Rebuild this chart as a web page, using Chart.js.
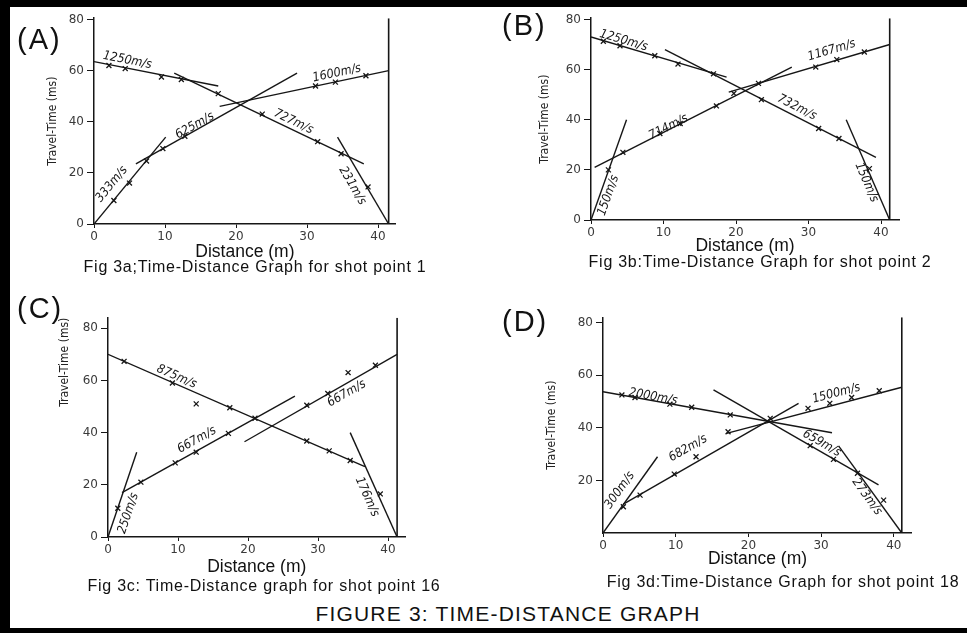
<!DOCTYPE html>
<html>
<head>
<meta charset="utf-8">
<script src="https://cdn.jsdelivr.net/npm/chart.js@4.4.1/dist/chart.umd.min.js"></script>
<style>
  body { margin: 0; width: 967px; height: 633px; position: relative; background: #fff; overflow: hidden;
         font-family: "Liberation Sans", Arial, sans-serif; color: #111; }
  .bar { position: absolute; background: #000; }
  canvas { position: absolute; }
  .tag { position: absolute; font-size: 29px; line-height: 1; letter-spacing: 2px; }
  .cap { position: absolute; font-size: 16px; letter-spacing: 0.75px; line-height: 1; white-space: nowrap; transform: translate(-50%, -50%); }
  #title { position: absolute; left: 508px; top: 613px; font-size: 21px; letter-spacing: 1.2px; line-height: 1; white-space: nowrap; transform: translate(-50%, -50%); }
</style>
</head>
<body>
<div class="bar" style="left:0;top:0;width:967px;height:7px"></div>
<div class="bar" style="left:0;top:0;width:10px;height:633px"></div>
<div class="bar" style="left:0;top:628px;width:967px;height:5px"></div>

<canvas id="chartA" width="420" height="262" style="left:20px;top:8px"></canvas>
<canvas id="chartB" width="435" height="256" style="left:505px;top:8px"></canvas>
<canvas id="chartC" width="430" height="280" style="left:20px;top:305px"></canvas>
<canvas id="chartD" width="455" height="272" style="left:505px;top:305px"></canvas>

<div class="tag" style="left:17px;top:25px">(A)</div>
<div class="tag" style="left:502px;top:11px">(B)</div>
<div class="tag" style="left:17px;top:294px">(C)</div>
<div class="tag" style="left:502px;top:307px">(D)</div>

<div class="cap" style="left:255px;top:267px">Fig 3a;Time-Distance Graph for shot point 1</div>
<div class="cap" style="left:760px;top:262px">Fig 3b:Time-Distance Graph for shot point 2</div>
<div class="cap" style="left:264px;top:586px">Fig 3c: Time-Distance graph for shot point 16</div>
<div class="cap" style="left:783px;top:582px">Fig 3d:Time-Distance Graph for shot point 18</div>
<div id="title">FIGURE 3: TIME-DISTANCE GRAPH</div>

<script>
// tick labels
const distTicks = [0, 10, 20, 30, 40];
const timeTicks = [0, 20, 40, 60, 80];
const timeTicksD = [20, 40, 60, 80];

// shot point 1 - line segments [x1, y1, x2, y2] (m, ms)
const aLines = [[0, 0, 10.1, 34], [5.9, 23.5, 28.6, 59], [17.7, 46, 41.5, 60],
                [0, 63.5, 17.5, 54], [11.3, 59, 38, 23.5], [34.3, 34, 41.5, 0]];
const aForward = [[2.8, 9.2], [5, 16], [7.4, 24.6], [9.7, 29.5], [12.8, 34.3], [31.2, 54], [34, 55.5], [38.3, 58]];
const aReverse = [[2.1, 62], [4.4, 60.8], [9.5, 57.5], [12.3, 56.5], [17.5, 51], [23.7, 43], [31.5, 32.2], [34.8, 27.5], [38.6, 14.5]];
const aSpeeds = ['333m/s', '625m/s', '1600m/s', '1250m/s', '727m/s', '231m/s'];
const aSpeedAt = [[2.5, 15.6], [14.2, 38.5], [34.2, 59], [4.7, 64], [28.1, 40], [36.4, 15]];
const aFarEnd = 41.5;

// shot point 2
const bLines = [[0, 0, 4.9, 40], [0.5, 21, 27.7, 61], [19, 51, 41.2, 70],
                [0, 73, 18.7, 57], [10.2, 68, 39.3, 25], [35.2, 40, 41.2, 0]];
const bForward = [[2.4, 20], [4.4, 27], [9.5, 34.5], [12.3, 38.5], [17.3, 45.5], [19.7, 50.5], [23.1, 54.5], [31, 61], [33.9, 64], [37.7, 67]];
const bReverse = [[1.7, 71.3], [4, 69.5], [8.8, 65.5], [12, 62.2], [16.9, 58.3], [23.5, 48], [31.4, 36.5], [34.2, 32.5], [38.4, 20.5]];
const bSpeeds = ['150m/s', '714m/s', '1167m/s', '1250m/s', '732m/s', '150m/s'];
const bSpeedAt = [[2.4, 9.8], [10.7, 37.1], [33.2, 67.7], [4.5, 71.6], [28.4, 44.9], [38, 15]];
const bFarEnd = 41.2;

// shot point 16
const cLines = [[0, 0, 4.1, 32.5], [2, 17, 26.7, 54], [19.5, 36.5, 41.3, 70],
                [0, 70, 36.7, 27], [34.6, 40, 41.3, 0]];
const cForward = [[1.4, 11], [4.7, 21], [9.6, 28.4], [12.6, 32.5], [17.2, 39.7], [21, 45.5], [28.4, 50.5], [31.4, 55], [34.3, 63], [38.2, 65.8]];
const cReverse = [[2.3, 67.3], [9.2, 59], [12.6, 51], [17.4, 49.5], [28.4, 36.8], [31.6, 33], [34.6, 29.3], [38.9, 16.5]];
const cSpeeds = ['250m/s', '667m/s', '667m/s', '875m/s', '176m/s'];
const cSpeedAt = [[2.9, 9.1], [12.7, 37.2], [34.1, 55], [9.8, 61.4], [37, 15.4]];
const cFarEnd = 41.3;

// shot point 18
const dLines = [[0, 0, 7.5, 29], [2.8, 11, 26.9, 49.3], [17, 37.9, 41.1, 55.4],
                [0, 53.7, 31.5, 38.1], [15.2, 54.4, 37.9, 18.3], [32.4, 33.1, 41.1, 0]];
const dForward = [[2.8, 10], [5.1, 14.4], [9.8, 22.4], [12.8, 29], [17.2, 38.5], [23, 43.6], [28.2, 47.4], [31.2, 49.3], [34.2, 51.5], [38, 54.1]];
const dReverse = [[2.6, 52.5], [4.4, 51.5], [9.2, 49], [12.2, 47.8], [17.5, 44.9], [28.5, 33.2], [31.7, 28], [35, 22.7], [38.6, 12.5]];
const dSpeeds = ['300m/s', '682m/s', '1500m/s', '2000m/s', '659m/s', '273m/s'];
const dSpeedAt = [[2.3, 16.3], [11.7, 32.2], [32.1, 53.1], [6.9, 51.8], [30.1, 34.1], [36.3, 13.8]];
const dFarEnd = 41.1;

const ink = '#161616';

// rotated velocity labels along their segment
function speedPlugin(lines, speeds, at) {
    return {
        id: 'speeds',
        afterDatasetsDraw(chart) {
            const ctx = chart.ctx;
            const x = chart.scales.x, y = chart.scales.y;
            ctx.save();
            ctx.font = 'italic 12.5px "DejaVu Sans Condensed", "DejaVu Sans", sans-serif';
            ctx.fillStyle = ink;
            ctx.textAlign = 'center';
            ctx.textBaseline = 'middle';
            speeds.forEach((txt, i) => {
                const s = lines[i];
                const ang = Math.atan2(y.getPixelForValue(s[3]) - y.getPixelForValue(s[1]),
                                       x.getPixelForValue(s[2]) - x.getPixelForValue(s[0]));
                ctx.save();
                ctx.translate(x.getPixelForValue(at[i][0]), y.getPixelForValue(at[i][1]));
                ctx.rotate(ang);
                ctx.fillText(txt, 0, 0);
                ctx.restore();
            });
            ctx.restore();
        }
    };
}

function drawPanel(id, p) {
    const canvas = document.getElementById(id);
    const box = { left: parseFloat(canvas.style.left), top: parseFloat(canvas.style.top), w: canvas.width, h: canvas.height };
    // wanted plot area on the page
    const area = { left: p.left, bottom: p.bottom,
                   right: p.left + p.xMax * p.pxM, top: p.bottom - p.yMax * p.pxMs };

    const datasets = [];
    p.lines.forEach(s => datasets.push({
        data: [{ x: s[0], y: s[1] }, { x: s[2], y: s[3] }],
        showLine: true, pointRadius: 0, borderColor: ink, borderWidth: 1.4
    }));
    datasets.push({
        data: [{ x: p.farEnd, y: 0 }, { x: p.farEnd, y: p.yMax }],
        showLine: true, pointRadius: 0, borderColor: ink, borderWidth: 1.6
    });
    [p.forward, p.reverse].forEach(pts => datasets.push({
        data: pts.map(v => ({ x: v[0], y: v[1] })),
        pointStyle: 'crossRot', pointRadius: 3.5, borderColor: ink, borderWidth: 1.3
    }));

    const tickFont = { family: '"DejaVu Sans", sans-serif', size: 12 };

    new Chart(canvas, {
        type: 'scatter',
        data: { datasets },
        options: {
            responsive: false,
            animation: false,
            layout: { padding: { left: 0, bottom: 0, top: area.top - box.top, right: box.left + box.w - area.right } },
            plugins: { legend: { display: false }, tooltip: { enabled: false } },
            scales: {
                x: {
                    type: 'linear', min: 0, max: p.xMax,
                    border: { color: ink, width: 1.5 },
                    grid: { drawOnChartArea: false, drawTicks: true, tickLength: 4, color: ink },
                    ticks: { color: '#3a3a3a', font: tickFont, padding: 2, maxRotation: 0 },
                    afterBuildTicks: s => { s.ticks = distTicks.map(v => ({ value: v })); },
                    afterFit: s => { s.height = box.top + box.h - area.bottom; },
                    title: { display: true, text: 'Distance (m)', color: '#111',
                             font: { family: '"Liberation Sans", Arial, sans-serif', size: 17.5 },
                             padding: { top: 0, bottom: box.top + box.h - p.distY - 10.5 } }
                },
                y: {
                    type: 'linear', min: 0, max: p.yMax,
                    border: { color: ink, width: 1.5 },
                    grid: { drawOnChartArea: false, drawTicks: true, tickLength: 7, color: ink },
                    ticks: { color: '#3a3a3a', font: tickFont, padding: 3 },
                    afterBuildTicks: s => { s.ticks = p.yTicks.map(v => ({ value: v })); },
                    afterFit: s => { s.width = area.left - box.left; },
                    title: { display: true, text: 'Travel-Time (ms)', color: '#222', align: p.titleAlign,
                             font: { family: '"DejaVu Sans Condensed", "DejaVu Sans", sans-serif', size: 12 },
                             padding: { top: p.titleX - box.left - 7.2 } }
                }
            }
        },
        plugins: [speedPlugin(p.lines, p.speeds, p.speedAt)]
    });
}

drawPanel('chartA', { left: 94, bottom: 224, pxM: 7.1, pxMs: 2.6, xMax: 42.5, yMax: 80.5, titleX: 53, titleAlign: 'center', distY: 252,
    lines: aLines, forward: aForward, reverse: aReverse, speeds: aSpeeds, speedAt: aSpeedAt, farEnd: aFarEnd, yTicks: timeTicks });
drawPanel('chartB', { left: 591, bottom: 220, pxM: 7.25, pxMs: 2.5625, xMax: 42.5, yMax: 80.5, titleX: 545, titleAlign: 'center', distY: 246,
    lines: bLines, forward: bForward, reverse: bReverse, speeds: bSpeeds, speedAt: bSpeedAt, farEnd: bFarEnd, yTicks: timeTicks });
drawPanel('chartC', { left: 108, bottom: 537, pxM: 7.0, pxMs: 2.61, xMax: 42.5, yMax: 84, titleX: 65, titleAlign: 'end', distY: 567,
    lines: cLines, forward: cForward, reverse: cReverse, speeds: cSpeeds, speedAt: cSpeedAt, farEnd: cFarEnd, yTicks: timeTicks });
drawPanel('chartD', { left: 603, bottom: 533, pxM: 7.27, pxMs: 2.63, xMax: 42.5, yMax: 82, titleX: 552, titleAlign: 'center', distY: 559,
    lines: dLines, forward: dForward, reverse: dReverse, speeds: dSpeeds, speedAt: dSpeedAt, farEnd: dFarEnd, yTicks: timeTicksD });
</script>
</body>
</html>
